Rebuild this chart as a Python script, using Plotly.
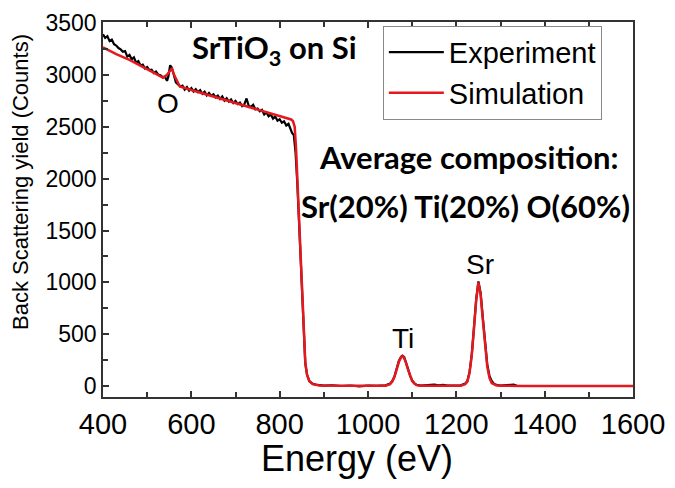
import plotly.graph_objects as go

# Experiment (black, measured spectrum)
exp_energy = [400, 405, 410, 415, 420, 425, 430, 435, 440, 445, 450, 455, 460, 465, 470, 475,
              480, 485, 490, 495, 500, 505, 510, 515, 520, 525, 530, 535, 540, 545, 548, 552,
              556, 560, 565, 570, 575, 580, 585, 590, 595, 600, 605, 610, 615, 620, 625, 630,
              635, 640, 645, 650, 655, 660, 665, 670, 675, 680, 685, 690, 695, 700, 705, 710,
              715, 720, 725, 730, 735, 740, 745, 750, 755, 760, 765, 770, 775, 780, 785, 790,
              795, 800, 805, 810, 815, 820, 825, 828, 832, 836, 840, 843, 846, 849, 852, 855,
              858, 862, 867, 875, 885, 900, 920, 940, 960, 980, 1000, 1020, 1040, 1050, 1055,
              1060, 1065, 1070, 1075, 1078, 1082, 1086, 1090, 1095, 1100, 1105, 1110, 1120,
              1140, 1150, 1160, 1170, 1180, 1200, 1210, 1220, 1225, 1230, 1235, 1240, 1245,
              1250, 1255, 1260, 1265, 1270, 1275, 1280, 1285, 1290, 1300, 1320, 1330, 1337]
exp_counts = [3390, 3355, 3372, 3325, 3340, 3295, 3282, 3258, 3245, 3222, 3228, 3176, 3192, 3150, 3168, 3118,
              3132, 3090, 3098, 3062, 3075, 3046, 3050, 3018, 3032, 3002, 2995, 2978, 2982, 2942, 2985, 3092,
              3068, 2992, 2928, 2908, 2888, 2896, 2858, 2882, 2848, 2872, 2840, 2862, 2833, 2852, 2818, 2838,
              2802, 2826, 2798, 2812, 2782, 2800, 2768, 2792, 2752, 2774, 2742, 2762, 2728, 2748, 2718, 2732,
              2698, 2716, 2772, 2700, 2692, 2712, 2668, 2676, 2648, 2662, 2618, 2638, 2600, 2618, 2578, 2598,
              2558, 2572, 2538, 2552, 2512, 2528, 2470, 2440, 2420, 2250, 1950, 1650, 1300, 950, 650, 400,
              220, 110, 50, 22, 12, 6, 9, 2, 7, -2, 5, 3, 8, 25, 50,
              95, 170, 245, 285, 295, 280, 235, 175, 105, 55, 28, 12, 6,
              10, 16, 8, 14, 6, 5, 8, 25, 50, 140, 310, 570, 840,
              1010, 900, 660, 410, 210, 100, 50, 25, 12, 6, 10, 15, 5]

# Simulation (red, fitted spectrum)
sim_energy = [400, 430, 460, 490, 520, 536, 545, 550, 556, 562, 568, 574, 600, 650, 700, 750,
              800, 820, 826, 830, 834, 837, 840, 843, 846, 849, 852, 855, 858, 862, 867, 875,
              890, 950, 1000, 1040, 1050, 1055, 1060, 1065, 1070, 1075, 1078, 1080, 1085,
              1090, 1095, 1100, 1105, 1110, 1120, 1150, 1200, 1210, 1220, 1225, 1230, 1235,
              1240, 1245, 1250, 1255, 1260, 1265, 1270, 1275, 1280, 1290, 1300, 1350, 1400,
              1500, 1600]
sim_counts = [3265, 3200, 3145, 3080, 3010, 2972, 3000, 3030, 3057, 2990, 2930, 2887, 2854, 2792, 2729, 2666,
              2604, 2579, 2570, 2555, 2500, 2300, 2000, 1700, 1350, 1000, 700, 430, 230, 110, 50, 20,
              8, 5, 4, 5, 20, 45, 90, 160, 235, 280, 290, 285, 240,
              170, 100, 50, 25, 10, 5, 4, 5, 5, 20, 45, 130, 300,
              560, 830, 1000, 880, 640, 390, 190, 80, 30, 10, 5, 3, 2,
              1, 1]

x_ticks = [400, 600, 800, 1000, 1200, 1400, 1600]
y_ticks = [0, 500, 1000, 1500, 2000, 2500, 3000, 3500]

fig = go.Figure()
fig.add_trace(go.Scatter(x=exp_energy, y=exp_counts, mode="lines", name="Experiment",
                         line=dict(color="black", width=2.2)))
fig.add_trace(go.Scatter(x=sim_energy, y=sim_counts, mode="lines", name="Simulation",
                         line=dict(color="#e3191f", width=2.5)))

bold = dict(family="Lato", size=31, color="black", weight="bold")
arial = dict(family="Liberation Sans", size=28, color="black")
annots = [
    dict(x=789, y=3245, text="<b>SrTiO<sub>3</sub> on Si</b>", font=bold),
    dict(x=1229, y=2208, text="<b>Average composition:</b>", font=bold),
    dict(x=1220, y=1736, text="<b>Sr(20%) Ti(20%) O(60%)</b>", font=bold),
    dict(x=547, y=2726, text="O", font=arial),
    dict(x=1079, y=462, text="Ti", font=arial),
    dict(x=1253, y=1170, text="Sr", font=arial),
]
for a in annots:
    fig.add_annotation(xref="x", yref="y", showarrow=False, xanchor="center", yanchor="middle", **a)

# axis titles placed as paper annotations to match the reference placement
fig.add_annotation(xref="paper", yref="paper", x=0.479, y=-0.165, text="Energy (eV)",
                   showarrow=False, xanchor="center", yanchor="middle",
                   font=dict(family="Liberation Sans", size=36, color="black"))
fig.add_annotation(xref="paper", yref="paper", x=-0.157, y=0.573, text="Back Scattering yield (Counts)",
                   textangle=-90, showarrow=False, xanchor="center", yanchor="middle",
                   font=dict(family="Liberation Sans", size=22, color="black"))

axis_common = dict(showline=True, linecolor="#333333", linewidth=1.5, showgrid=False, zeroline=False,
                   ticks="inside", ticklen=6, tickwidth=1.5, tickcolor="#333333", automargin=False,
                   ticklabeloverflow="allow")
fig.update_xaxes(range=[400, 1600], tickvals=x_ticks, mirror="ticks",
                 minor=dict(dtick=100, ticks="inside", ticklen=5, tickwidth=1.5, tickcolor="#333333"),
                 tickfont=dict(family="Liberation Sans", size=29, color="black"),
                 **axis_common)
fig.update_yaxes(range=[-104, 3509], tickvals=y_ticks, mirror=True,
                 minor=dict(dtick=250, ticks="inside", ticklen=5, tickwidth=1.5, tickcolor="#333333"),
                 tickfont=dict(family="Liberation Sans", size=23, color="black"),
                 **axis_common)

fig.update_layout(
    width=675, height=488,
    margin=dict(l=95, r=50, t=14, b=99),
    plot_bgcolor="white", paper_bgcolor="white",
    legend=dict(x=0.528, y=0.99, xanchor="left", yanchor="top",
                bordercolor="#888888", borderwidth=1, bgcolor="white",
                font=dict(family="Liberation Sans", size=29, color="black"),
                tracegroupgap=0, itemwidth=55),
)

fig.write_html("out.html")
